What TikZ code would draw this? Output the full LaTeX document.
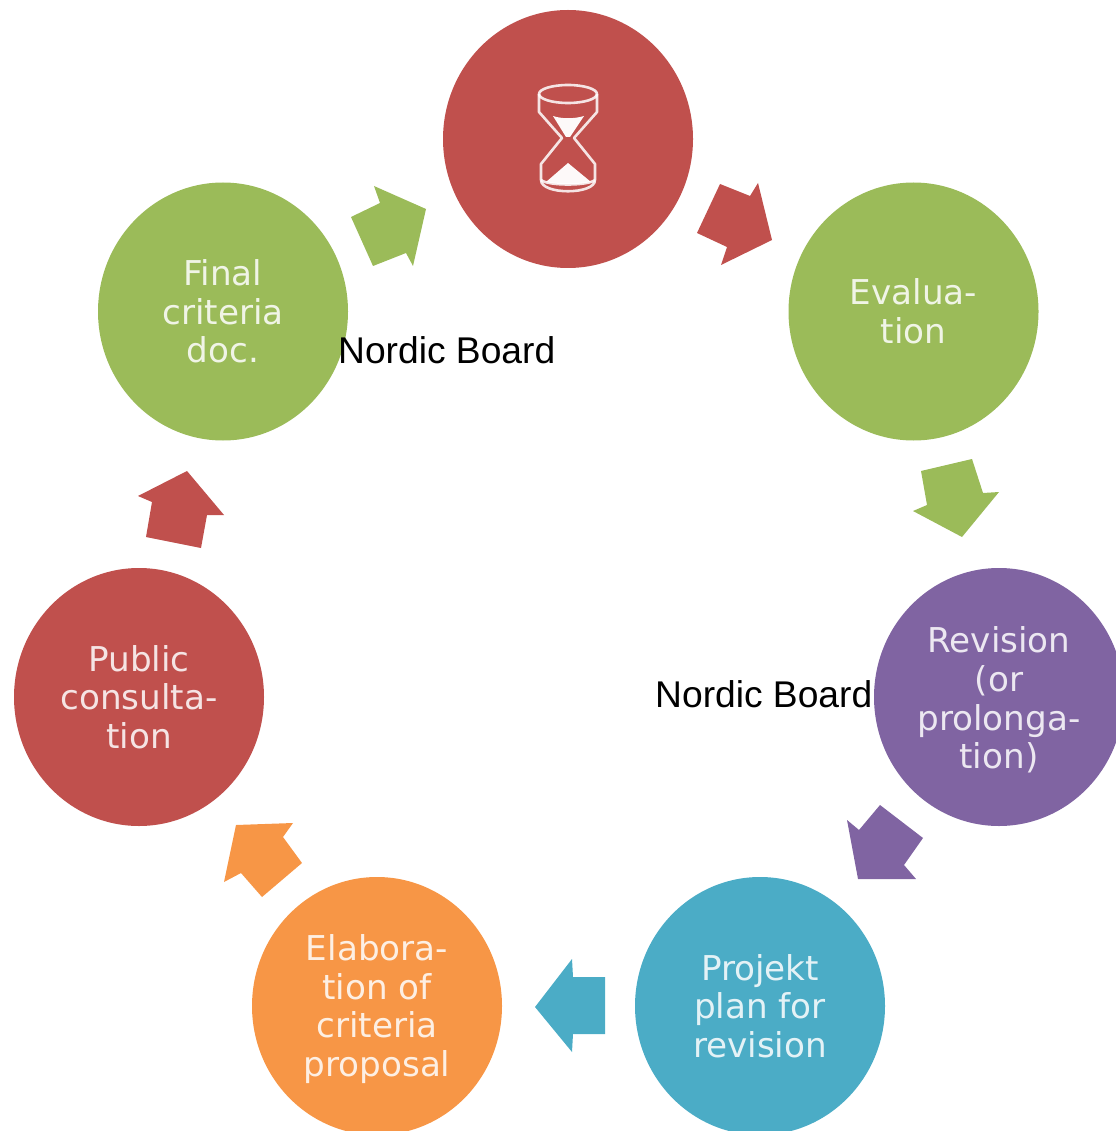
\documentclass[tikz,border=0pt]{standalone}
\usepackage{fontspec}
\setmainfont{DejaVu Sans}
\newfontfamily\boardfont{Liberation Sans}
\usetikzlibrary{shapes.geometric}
\definecolor{cred}{HTML}{C0504D}
\definecolor{cgreen}{HTML}{9BBB59}
\definecolor{cpurple}{HTML}{8064A2}
\definecolor{cblue}{HTML}{4BACC6}
\definecolor{corange}{HTML}{F79646}
\newcommand{\lowerfour}{\rule{0pt}{32pt}}
\tikzset{
  stage/.style={ellipse,minimum width=250pt,minimum height=258pt,inner sep=0pt,
    text=white,text opacity=0.85,align=center,
    font=\fontsize{34.2pt}{38.7pt}\selectfont},
  board/.style={anchor=base west,inner sep=0pt,text=black,
    font=\boardfont\fontsize{37.2pt}{40pt}\selectfont},
  glass/.style={draw=white,draw opacity=0.85,line width=2.6pt,line join=round},
  sand/.style={fill=white,fill opacity=0.97}
}
\begin{document}
\begin{tikzpicture}[x=1pt,y=-1pt]
\useasboundingbox (0,0) rectangle (1115,1131);
\node[stage,fill=cred] (top) at (568,139) {};
\node[stage,fill=cgreen] (eval) at (913.5,311.5) {Evalua-\\tion};
\node[stage,fill=cpurple] (rev) at (999,697) {\lowerfour Revision\\(or\\prolonga-\\tion)};
\node[stage,fill=cblue] (plan) at (760,1006) {Projekt\\plan for\\revision};
\node[stage,fill=corange] (elab) at (377,1006) {\lowerfour Elabora-\\tion of\\criteria\\proposal};
\node[stage,fill=cred] (pub) at (139,697) {Public\\consulta-\\tion};
\node[stage,fill=cgreen] (final) at (223,311.5) {Final\\criteria\\doc.};
% block arrows
\fill[cred] (720,184) -- (750,196) -- (758,183) -- (772,240) -- (721,265) -- (727,247) -- (697,233) -- cycle;
\fill[cgreen] (921,471) -- (972,459) -- (983,493) -- (999,492) -- (962,537) -- (913,511) -- (927,505) -- cycle;
\fill[cpurple] (880,805) -- (923,838) -- (904,865) -- (916,879) -- (858,879) -- (847,820) -- (859,830) -- cycle;
\fill[cblue] (605,977) -- (605,1034) -- (573,1034) -- (572,1052) -- (535,1007) -- (572,959) -- (573,977) -- cycle;
\fill[corange] (302,863) -- (262,897) -- (241,873) -- (224,882) -- (236,825) -- (293,823) -- (283,837) -- cycle;
\fill[cred] (201,548) -- (146,537) -- (152,502) -- (138,496) -- (187,471) -- (224,515) -- (207,515) -- cycle;
\fill[cgreen] (351,217) -- (380,203) -- (374,186) -- (426,209) -- (413,266) -- (406,253) -- (373,266) -- cycle;
% hourglass
\draw[glass] (568,94) ellipse (29 and 9);
\draw[glass] (541,180) .. controls (548,186) and (588,186) .. (595,180);
\draw[glass] (541,180) .. controls (541,195) and (595,195) .. (595,180);
\draw[glass] (539,94) -- (539,112) -- (562,138) -- (541,164) -- (541,180);
\draw[glass] (597,94) -- (597,112) -- (574,138) -- (595,164) -- (595,180);
\fill[sand] (553,116) .. controls (562,119) and (574,119) .. (584,116) -- (570,137) -- (566,137) -- cycle;
\fill[sand] (568,163) -- (591,182) .. controls (578,185) and (558,185) .. (546,182) -- cycle;
% labels
\node[board] (b1) at (338,363) {Nordic Board};
\node[board] (b2) at (655,707) {Nordic Board};
\end{tikzpicture}
\end{document}
